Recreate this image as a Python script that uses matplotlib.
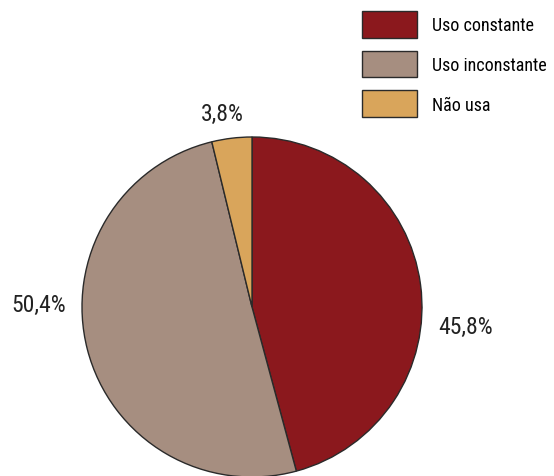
import matplotlib
matplotlib.use("Agg")
import matplotlib.pyplot as plt
from matplotlib.patches import Patch

plt.rcParams['font.family'] = ['Roboto Condensed', 'Liberation Sans Narrow', 'Roboto', 'DejaVu Sans']

# uso do produto entre os entrevistados (%)
categories = ["Uso constante", "Uso inconstante", "Não usa"]
values = [45.8, 50.4, 3.8]
colors = ["#8B181D", "#A68E80", "#D9A55B"]

W, H = 554, 477
fig = plt.figure(figsize=(W / 100, H / 100), dpi=100)

# pie: center (252, 308) px, radius 170 px
cx, cy, r = 252, 308, 170
ax = fig.add_axes([(cx - r) / W, (H - cy - r) / H, 2 * r / W, 2 * r / H])
wedges, _ = ax.pie(values, colors=colors, startangle=90, counterclock=False,
                   wedgeprops=dict(edgecolor="#2a2a2a", linewidth=1.0))
ax.set_xlim(-1, 1)
ax.set_ylim(-1, 1)
ax.set_aspect("equal")
ax.axis("off")

# percentage labels, placed in figure pixels
label_pos = [(466, 327), (39, 305), (222, 114)]
for v, (px, py) in zip(values, label_pos):
    txt = f"{v:.1f}".replace(".", ",") + "%"
    fig.text(px / W, 1 - py / H, txt, ha="center", va="center",
             fontsize=17, color="#222222")

handles = [Patch(facecolor=c, edgecolor="#2a2a2a", linewidth=1.0) for c in colors]
fig.legend(handles, categories, loc="upper left",
           bbox_to_anchor=(362 / W, 1 - 12 / H), frameon=False,
           fontsize=13, handlelength=3.05, handleheight=1.9,
           labelspacing=0.72, handletextpad=0.8, borderpad=0, borderaxespad=0)

fig.savefig("out.png", dpi=100)
